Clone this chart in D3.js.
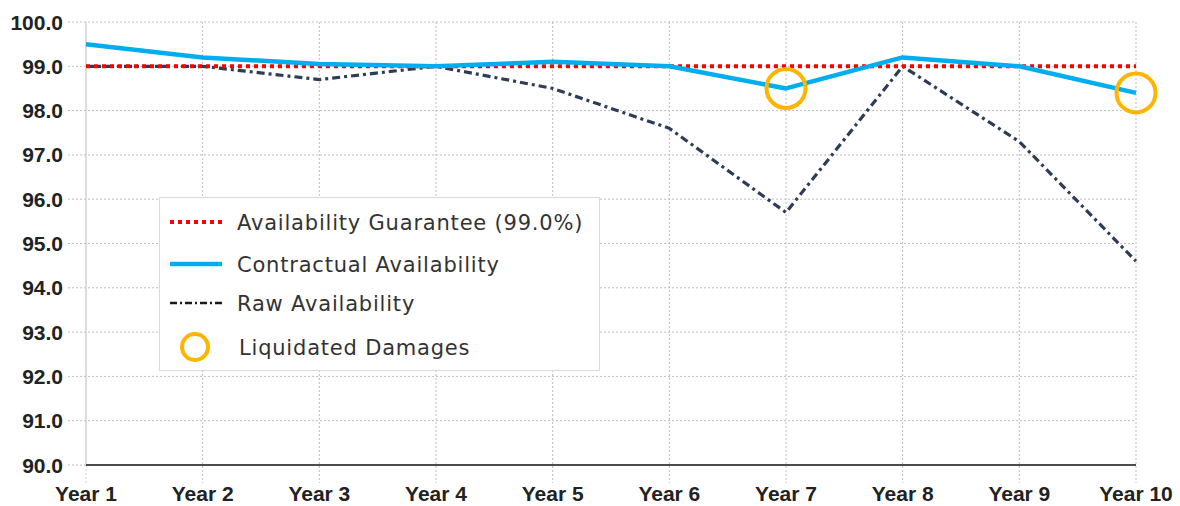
<!DOCTYPE html>
<html>
<head>
<meta charset="utf-8">
<script src="https://cdn.jsdelivr.net/npm/d3@7/dist/d3.min.js"></script>
<style>
  html, body { margin: 0; padding: 0; background: #fff; }
  svg { display: block; }
</style>
</head>
<body>
<svg id="chart" width="1180" height="506"></svg>
<script>
// Annual availability figures (%)
const years = ["Year 1","Year 2","Year 3","Year 4","Year 5","Year 6","Year 7","Year 8","Year 9","Year 10"];
const guarantee = [99.0, 99.0, 99.0, 99.0, 99.0, 99.0, 99.0, 99.0, 99.0, 99.0];
const contractual = [99.5, 99.2, 99.05, 99.0, 99.1, 99.0, 98.5, 99.2, 99.0, 98.4];
const raw = [99.0, 99.0, 98.7, 99.0, 98.5, 97.6, 95.7, 99.0, 97.3, 94.6];
const damageYears = ["Year 7", "Year 10"];
const yTicks = [90, 91, 92, 93, 94, 95, 96, 97, 98, 99, 100];
const legendLabels = ["Availability Guarantee (99.0%)", "Contractual Availability", "Raw Availability", "Liquidated Damages"];

const svg = d3.select("#chart");
const plotLeft = 86, plotRight = 1136, plotTop = 22, plotBottom = 465;

const x = d3.scalePoint().domain(years).range([plotLeft, plotRight]);
const y = d3.scaleLinear().domain([90, 100]).range([plotBottom, plotTop]);

// Horizontal gridlines
svg.append("g").selectAll("line").data(yTicks.filter(d => d > 90)).join("line")
  .attr("x1", plotLeft - 18).attr("x2", plotRight)
  .attr("y1", d => y(d)).attr("y2", d => y(d))
  .attr("stroke", "#bdbdbd").attr("stroke-width", 1).attr("stroke-dasharray", "2,2");
// Tick stub at 90
svg.append("line").attr("x1", plotLeft - 18).attr("x2", plotLeft).attr("y1", y(90)).attr("y2", y(90))
  .attr("stroke", "#bdbdbd").attr("stroke-dasharray", "2,2");

// Vertical gridlines
svg.append("g").selectAll("line").data(years).join("line")
  .attr("x1", d => x(d)).attr("x2", d => x(d))
  .attr("y1", plotTop).attr("y2", d => d === years[0] ? plotBottom : plotBottom + 18)
  .attr("stroke", d => d === years[0] ? "#d0d0d0" : "#bdbdbd")
  .attr("stroke-width", d => d === years[0] ? 1.5 : 1)
  .attr("stroke-dasharray", d => d === years[0] ? null : "2,2");
svg.append("line").attr("x1", plotLeft).attr("x2", plotLeft).attr("y1", plotBottom).attr("y2", plotBottom + 18)
  .attr("stroke", "#d0d0d0").attr("stroke-dasharray", "2,2");

// X baseline
svg.append("line").attr("x1", plotLeft).attr("x2", plotRight).attr("y1", y(90)).attr("y2", y(90))
  .attr("stroke", "#111").attr("stroke-width", 1.3);

// Y axis labels
svg.append("g").selectAll("text").data(yTicks).join("text")
  .attr("x", 63).attr("y", d => y(d) + 7.5)
  .attr("text-anchor", "end")
  .attr("font-family", "Liberation Sans, Arial, sans-serif")
  .attr("font-weight", "bold").attr("font-size", 21).attr("fill", "#222")
  .text(d => d.toFixed(1));

// X axis labels
svg.append("g").selectAll("text").data(years).join("text")
  .attr("x", d => x(d)).attr("y", 501)
  .attr("text-anchor", "middle")
  .attr("font-family", "Liberation Sans, Arial, sans-serif")
  .attr("font-weight", "bold").attr("font-size", 21).attr("fill", "#222")
  .text(d => d);

const line = d3.line().x((d, i) => x(years[i])).y(d => y(d));

// Raw availability
svg.append("path").datum(raw).attr("d", line)
  .attr("fill", "none").attr("stroke", "#2c3d57").attr("stroke-width", 3.2)
  .attr("stroke-dasharray", "8,4,3,4");

// Guarantee
svg.append("path").datum(guarantee).attr("d", line)
  .attr("fill", "none").attr("stroke", "#ff0000").attr("stroke-width", 4)
  .attr("stroke-dasharray", "4,4");

// Contractual availability
svg.append("path").datum(contractual).attr("d", line)
  .attr("fill", "none").attr("stroke", "#00aeef").attr("stroke-width", 4.5)
  .attr("stroke-linejoin", "round");

// Liquidated damages markers
svg.append("g").selectAll("circle").data(damageYears).join("circle")
  .attr("cx", d => x(d)).attr("cy", d => y(contractual[years.indexOf(d)]))
  .attr("r", 19.5).attr("fill", "none").attr("stroke", "#ffb400").attr("stroke-width", 4);

// Legend
const lg = svg.append("g");
lg.append("rect").attr("x", 159.5).attr("y", 197.5).attr("width", 440).attr("height", 173)
  .attr("fill", "#fff").attr("stroke", "#d9d9d9").attr("stroke-width", 1);
const rowsY = [222, 264, 303, 347];
const lx1 = 170, lx2 = 222;
lg.append("line").attr("x1", lx1).attr("x2", lx2).attr("y1", rowsY[0]).attr("y2", rowsY[0])
  .attr("stroke", "#ff0000").attr("stroke-width", 4).attr("stroke-dasharray", "4,4");
lg.append("line").attr("x1", lx1).attr("x2", lx2).attr("y1", rowsY[1]).attr("y2", rowsY[1])
  .attr("stroke", "#00aeef").attr("stroke-width", 4.5);
lg.append("line").attr("x1", lx1).attr("x2", lx2).attr("y1", rowsY[2]).attr("y2", rowsY[2])
  .attr("stroke", "#1a1a1a").attr("stroke-width", 2.4).attr("stroke-dasharray", "7,3,2,3");
lg.append("circle").attr("cx", 195).attr("cy", rowsY[3]).attr("r", 13)
  .attr("fill", "none").attr("stroke", "#ffb400").attr("stroke-width", 4);
lg.selectAll("text").data(legendLabels).join("text")
  .attr("x", (d, i) => i === 3 ? 239 : 237).attr("y", (d, i) => rowsY[i] + 8)
  .attr("font-family", "DejaVu Sans, Verdana, sans-serif")
  .attr("font-size", 21).attr("letter-spacing", 0.8).attr("fill", "#333")
  .text(d => d);
</script>
</body>
</html>
